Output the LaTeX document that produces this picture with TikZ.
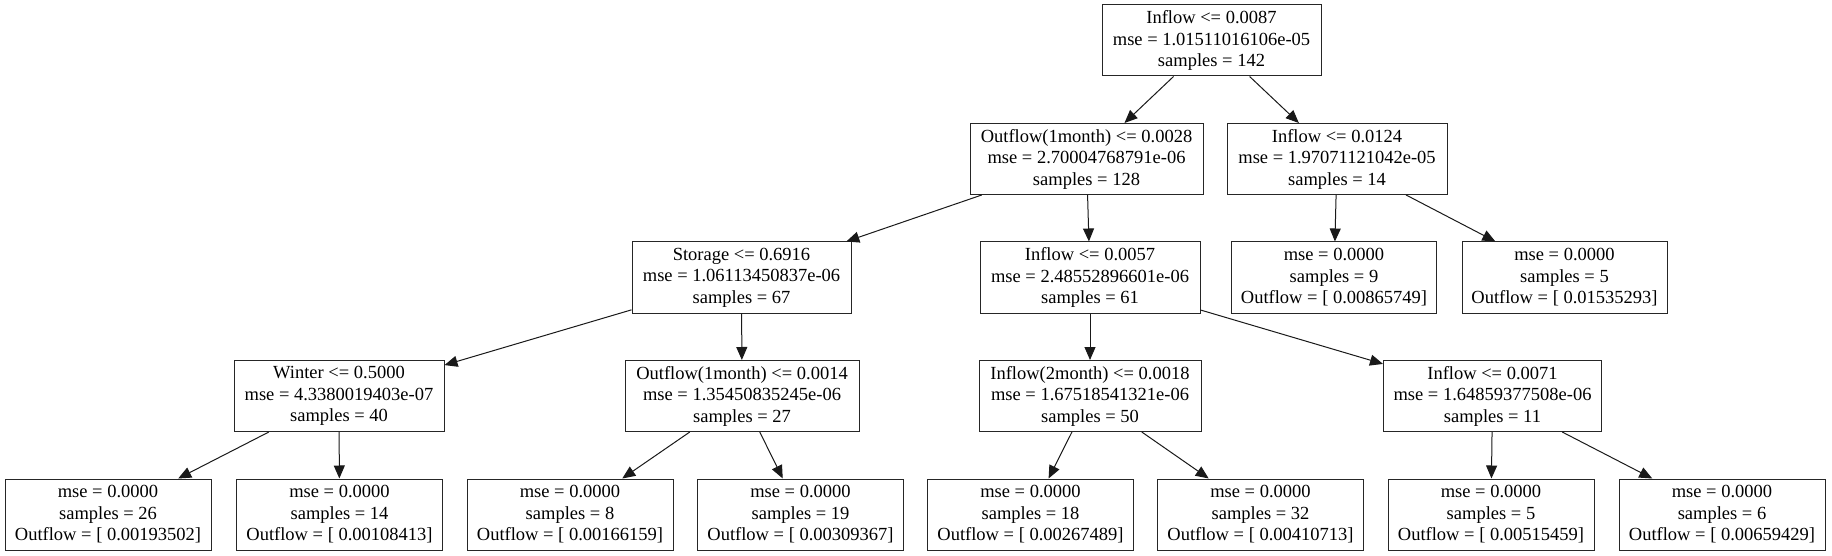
\documentclass[tikz,border=0pt]{standalone}
\usepackage{fontspec}
\setmainfont{Liberation Serif}
\usetikzlibrary{arrows.meta}
\tikzset{
  box/.style={draw=black!85, line width=1pt, rectangle, inner sep=0pt,
    minimum height=71pt, align=center,
    font=\fontsize{18.5}{21.5}\selectfont},
  leaf/.style={box, minimum width=206pt},
  edge/.style={-{Triangle[length=13pt,width=11pt]}, line width=1pt, draw=black!90}
}
\begin{document}
\begin{tikzpicture}[x=1pt,y=-1pt]
\useasboundingbox (0,0) rectangle (1832,556);
% rank 0
\node[box, minimum width=219pt] (r) at (1211.5,40.5) {Inflow <= 0.0087\\mse = 1.01511016106e-05\\samples = 142};
% rank 1
\node[box, minimum width=233pt] (a) at (1086.5,159) {Outflow(1month) <= 0.0028\\mse = 2.70004768791e-06\\samples = 128};
\node[box, minimum width=220pt] (b) at (1337,159) {Inflow <= 0.0124\\mse = 1.97071121042e-05\\samples = 14};
% rank 2
\node[box, minimum width=219pt] (aa) at (741.5,277.5) {Storage <= 0.6916\\mse = 1.06113450837e-06\\samples = 67};
\node[box, minimum width=220pt] (ab) at (1090,277.5) {Inflow <= 0.0057\\mse = 2.48552896601e-06\\samples = 61};
\node[leaf, minimum width=205pt] (ba) at (1334,277.5) {mse = 0.0000\\samples = 9\\Outflow = [ 0.00865749]};
\node[leaf, minimum width=205pt] (bb) at (1564.5,277.5) {mse = 0.0000\\samples = 5\\Outflow = [ 0.01535293]};
% rank 3
\node[box, minimum width=210pt] (aaa) at (339,396) {Winter <= 0.5000\\mse = 4.3380019403e-07\\samples = 40};
\node[box, minimum width=234pt] (aab) at (742,396) {Outflow(1month) <= 0.0014\\mse = 1.35450835245e-06\\samples = 27};
\node[box, minimum width=222pt] (aba) at (1090,396) {Inflow(2month) <= 0.0018\\mse = 1.67518541321e-06\\samples = 50};
\node[box, minimum width=218pt] (abb) at (1492.5,396) {Inflow <= 0.0071\\mse = 1.64859377508e-06\\samples = 11};
% rank 4
\node[leaf] (l1) at (108,514.5) {mse = 0.0000\\samples = 26\\Outflow = [ 0.00193502]};
\node[leaf] (l2) at (339.5,514.5) {mse = 0.0000\\samples = 14\\Outflow = [ 0.00108413]};
\node[leaf] (l3) at (570,514.5) {mse = 0.0000\\samples = 8\\Outflow = [ 0.00166159]};
\node[leaf] (l4) at (800.5,514.5) {mse = 0.0000\\samples = 19\\Outflow = [ 0.00309367]};
\node[leaf] (l5) at (1030.5,514.5) {mse = 0.0000\\samples = 18\\Outflow = [ 0.00267489]};
\node[leaf] (l6) at (1260.5,514.5) {mse = 0.0000\\samples = 32\\Outflow = [ 0.00410713]};
\node[leaf] (l7) at (1491,514.5) {mse = 0.0000\\samples = 5\\Outflow = [ 0.00515459]};
\node[leaf] (l8) at (1722,514.5) {mse = 0.0000\\samples = 6\\Outflow = [ 0.00659429]};
% edges
\draw[edge] (r) -- (a);
\draw[edge] (r) -- (b);
\draw[edge] (a) -- (aa);
\draw[edge] (a) -- (ab);
\draw[edge] (b) -- (ba);
\draw[edge] (b) -- (bb);
\draw[edge] (aa) -- (aaa);
\draw[edge] (aa) -- (aab);
\draw[edge] (ab) -- (aba);
\draw[edge] (ab) -- (abb);
\draw[edge] (aaa) -- (l1);
\draw[edge] (aaa) -- (l2);
\draw[edge] (aab) -- (l3);
\draw[edge] (aab) -- (l4);
\draw[edge] (aba) -- (l5);
\draw[edge] (aba) -- (l6);
\draw[edge] (abb) -- (l7);
\draw[edge] (abb) -- (l8);
\end{tikzpicture}
\end{document}
